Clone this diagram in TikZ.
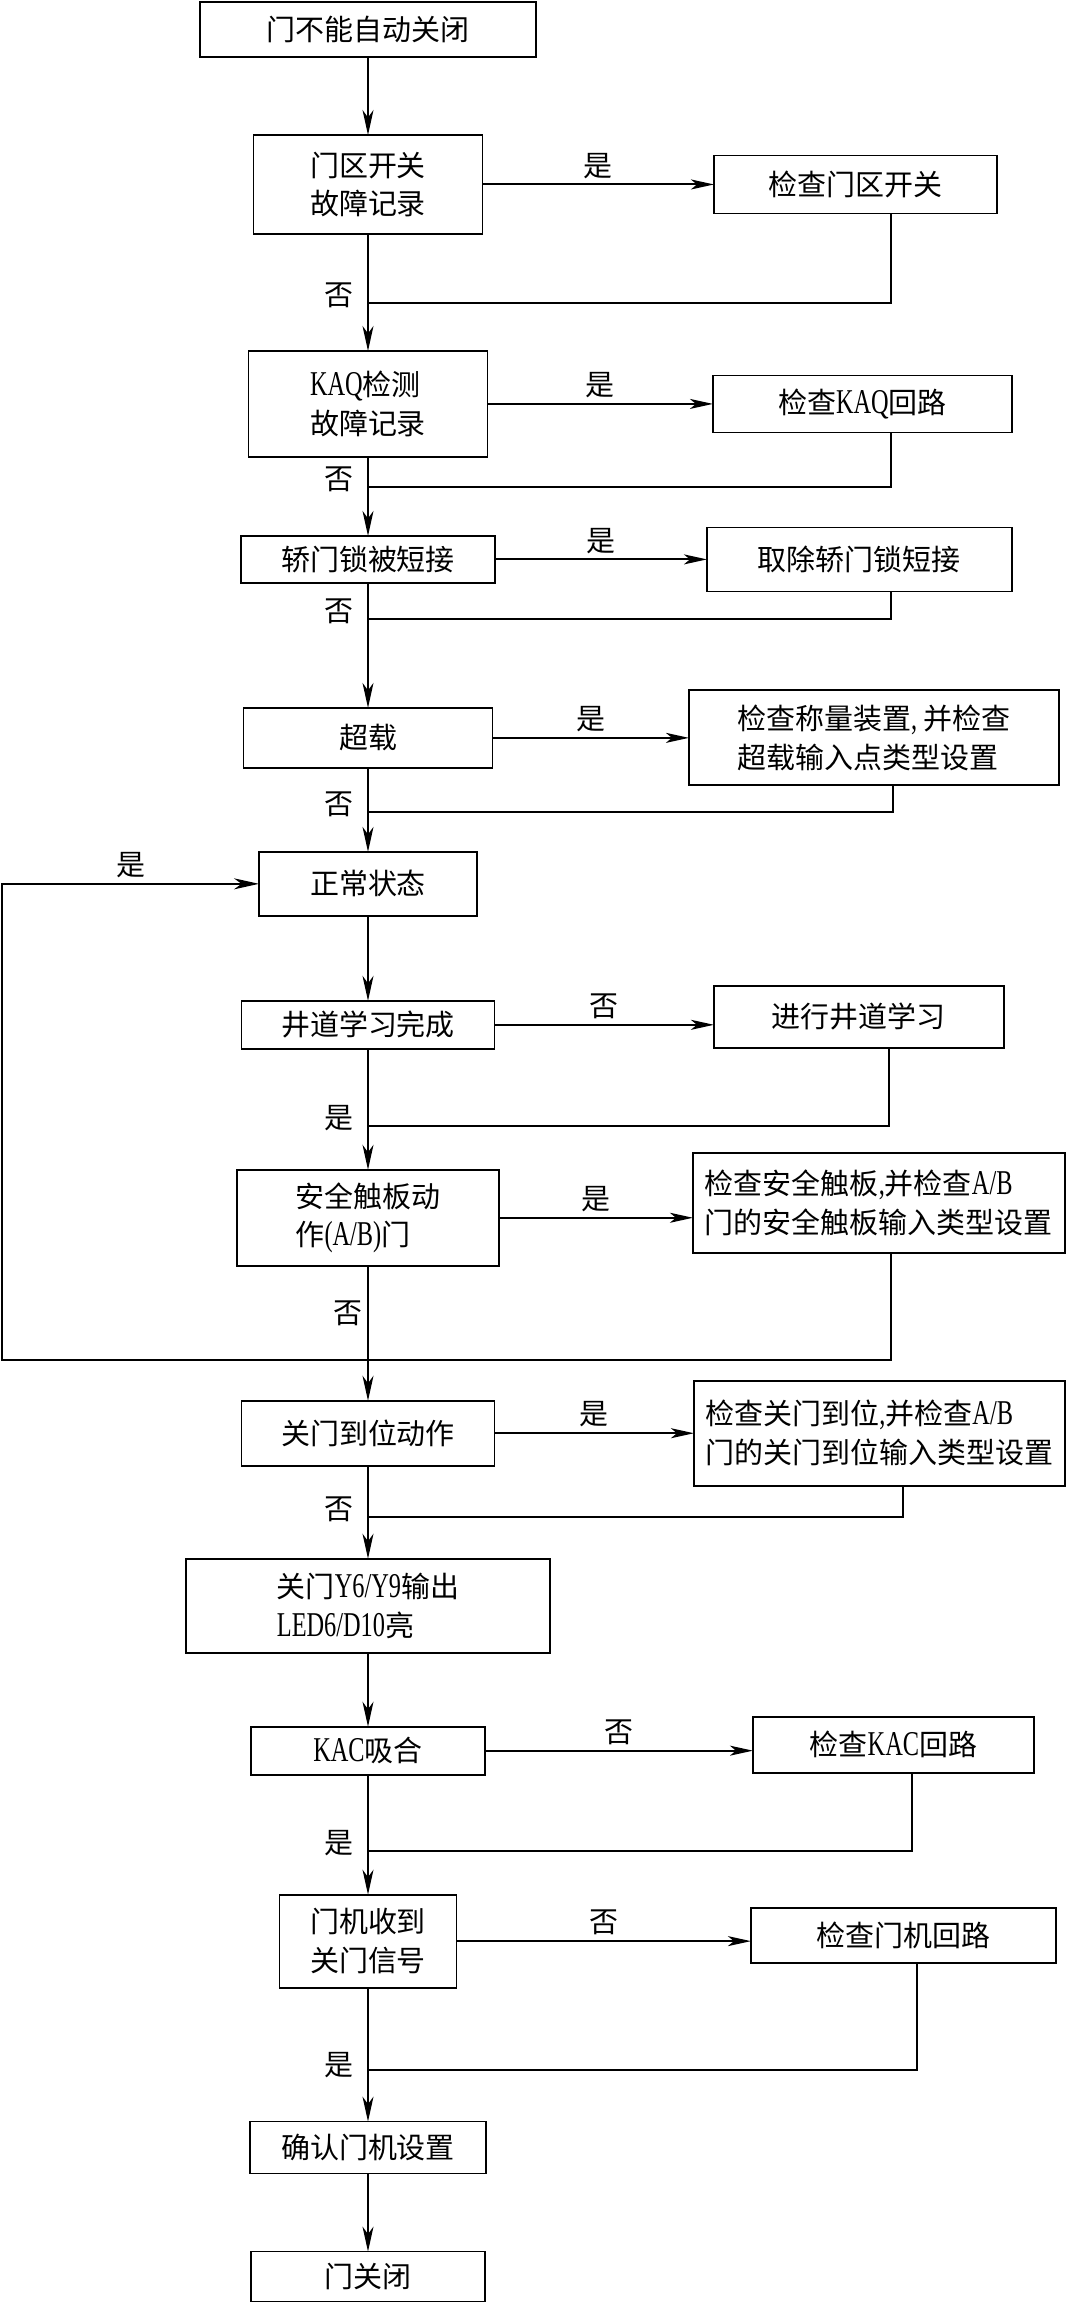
\documentclass[tikz,border=0pt]{standalone}
\usepackage{fontspec}
\usepackage{tikz}
\usetikzlibrary{arrows.meta,positioning,calc}
\newfontfamily\cjk{Noto Sans CJK SC}
\newfontfamily\lat{Liberation Serif}[Scale=1.2, FakeStretch=0.7]

\begin{document}
\begin{tikzpicture}[x=0.02cm, y=-0.02cm,
    box/.style={rectangle, draw, line width=1pt, outer sep=0pt, align=left, inner sep=2pt, font=\cjk\fontsize{16.5pt}{22pt}\selectfont},
    sz/.style 2 args={minimum width=#1cm, minimum height=#2cm},
    line/.style={draw, line width=0.7pt, -{Stealth[length=0.5cm, width=0.22cm, inset=0.15cm]}},
    yes/.style={draw, line width=1.1pt, -{Stealth[length=0.46cm, width=0.2cm, inset=0.12cm]}},
    back/.style={draw, line width=0.9pt},
    lbl/.style={font=\cjk\fontsize{16.5pt}{22pt}\selectfont, inner sep=0.1cm}]

    \fill[white] (0,0) rectangle (1067,2304);
    \useasboundingbox (0,0) rectangle (1067,2304);

    % main column
    \node [box, sz={6.72}{1.1}] (start) at (368,29.5) {门不能自动关闭};
    \node [box, sz={4.58}{1.98}, below=1.56cm of start] (zone) {门区开关\\故障记录};
    \node [box, sz={4.78}{2.12}, below=2.34cm of zone] (kaq) {{\lat KAQ}检测\\故障记录};
    \node [box, sz={5.08}{0.94}, below=1.58cm of kaq] (lock) {轿门锁被短接};
    \node [box, sz={4.98}{1.2}, below=2.5cm of lock] (load) {超载};
    \node [box, sz={4.36}{1.28}, below=1.68cm of load] (normal) {正常状态};
    \node [box, sz={5.06}{0.96}, below=1.7cm of normal] (learn) {井道学习完成};
    \node [box, sz={5.24}{1.92}, below=2.42cm of learn] (sedge) {安全触板动\\作{\lat (A/B)}门};
    \node [box, sz={5.06}{1.3}, below=2.7cm of sedge] (limit) {关门到位动作};
    \node [box, sz={7.28}{1.88}, below=1.86cm of limit] (output) {关门{\lat Y6/Y9}输出\\{\lat LED6/D10}亮};
    \node [box, sz={4.68}{0.96}, below=1.48cm of output] (kac) {{\lat KAC}吸合};
    \node [box, sz={3.54}{1.86}, below=2.4cm of kac] (motor) {门机收到\\关门信号};
    \node [box, sz={4.72}{1.04}, below=2.68cm of motor] (confirm) {确认门机设置};
    \node [box, sz={4.68}{1.0}, below=1.56cm of confirm] (closed) {门关闭};

    % check column
    \node [box, sz={5.66}{1.16}, right=4.63cm of zone] (chkzone) {检查门区开关};
    \node [box, sz={5.98}{1.14}, right=4.51cm of kaq] (chkkaq) {检查{\lat KAQ}回路};
    \node [box, sz={6.1}{1.28}, right=4.24cm of lock] (unshort) {取除轿门锁短接};
    \node [box, sz={7.4}{1.9}, right=3.93cm of load] (chkload) {检查称量装置{\lat ,} 并检查\\超载输入点类型设置};
    \node [box, sz={5.8}{1.24}, right=4.39cm of learn, yshift=0.16cm] (dolearn) {进行井道学习};
    \node [box, sz={7.44}{2.0}, right=3.88cm of sedge, yshift=0.3cm] (chkedge) {检查安全触板{\lat ,}并检查{\lat A/B}\\门的安全触板输入类型设置};
    \node [box, sz={7.42}{2.1}, right=3.99cm of limit] (chklimit) {检查关门到位{\lat ,}并检查{\lat A/B}\\门的关门到位输入类型设置};
    \node [box, sz={5.62}{1.12}, right=5.36cm of kac, yshift=0.12cm] (chkkac) {检查{\lat KAC}回路};
    \node [box, sz={6.1}{1.1}, right=5.89cm of motor, yshift=0.12cm] (chkmotor) {检查门机回路};

    % main arrows
    \draw [line] (start) -- (zone);
    \draw [line] (zone) -- (kaq);
    \draw [line] (kaq) -- (lock);
    \draw [line] (lock) -- (load);
    \draw [line] (load) -- (normal);
    \draw [line] (normal) -- (learn);
    \draw [line] (learn) -- (sedge);
    \draw [line] (sedge) -- (limit) node [lbl, pos=0.35, left] {否};
    \draw [line] (limit) -- (output);
    \draw [line] (output) -- (kac);
    \draw [line] (kac) -- (motor);
    \draw [line] (motor) -- (confirm);
    \draw [line] (confirm) -- (closed);

    % branches
    \draw [yes] (zone.east) -- (zone.east -| chkzone.west) node [lbl, midway, above] {是};
    \draw [yes] (kaq.east) -- (kaq.east -| chkkaq.west) node [lbl, midway, above] {是};
    \draw [yes] (lock.east) -- (lock.east -| unshort.west) node [lbl, midway, above] {是};
    \draw [yes] (load.east) -- (load.east -| chkload.west) node [lbl, midway, above] {是};
    \draw [yes] (learn.east) -- (learn.east -| dolearn.west) node [lbl, midway, above] {否};
    \draw [yes] (sedge.east) -- (sedge.east -| chkedge.west) node [lbl, midway, above] {是};
    \draw [yes] (limit.east) -- (limit.east -| chklimit.west) node [lbl, midway, above] {是};
    \draw [yes] (kac.east) -- (kac.east -| chkkac.west) node [lbl, midway, above] {否};
    \draw [yes] (motor.east) -- (motor.east -| chkmotor.west) node [lbl, midway, above] {否};

    % returns
    \coordinate (rzone) at (891,303);
    \coordinate (rkaq) at (891,487);
    \coordinate (rlock) at (891,619);
    \coordinate (rload) at (893,812);
    \coordinate (rlearn) at (889,1126);
    \coordinate (rsedge) at (891,1360);
    \coordinate (lft) at (2,1360);
    \coordinate (rlimit) at (903,1517);
    \coordinate (rkac) at (912,1851);
    \coordinate (rmotor) at (917,2070);

    \draw [back] (chkzone.south -| rzone) |- (zone.south |- rzone) node [lbl, at end, anchor=east, xshift=-0.17cm, yshift=0.15cm] {否};
    \draw [back] (chkkaq.south -| rkaq) |- (kaq.south |- rkaq) node [lbl, at end, anchor=east, xshift=-0.17cm, yshift=0.15cm] {否};
    \draw [back] (unshort.south -| rlock) |- (lock.south |- rlock) node [lbl, at end, anchor=east, xshift=-0.17cm, yshift=0.15cm] {否};
    \draw [back] (chkload.south -| rload) |- (load.south |- rload) node [lbl, at end, anchor=east, xshift=-0.17cm, yshift=0.15cm] {否};
    \draw [back] (dolearn.south -| rlearn) |- (learn.south |- rlearn) node [lbl, at end, anchor=east, xshift=-0.17cm, yshift=0.15cm] {是};
    \draw [line, line width=0.9pt] (chkedge.south -| rsedge) -- (rsedge) -- (lft) |- (normal.west) node [lbl, pos=0.75, above] {是};
    \draw [back] (chklimit.south -| rlimit) |- (limit.south |- rlimit) node [lbl, at end, anchor=east, xshift=-0.17cm, yshift=0.15cm] {否};
    \draw [back] (chkkac.south -| rkac) |- (kac.south |- rkac) node [lbl, at end, anchor=east, xshift=-0.17cm, yshift=0.15cm] {是};
    \draw [back] (chkmotor.south -| rmotor) |- (motor.south |- rmotor) node [lbl, at end, anchor=east, xshift=-0.17cm, yshift=0.1cm] {是};
\end{tikzpicture}
\end{document}
